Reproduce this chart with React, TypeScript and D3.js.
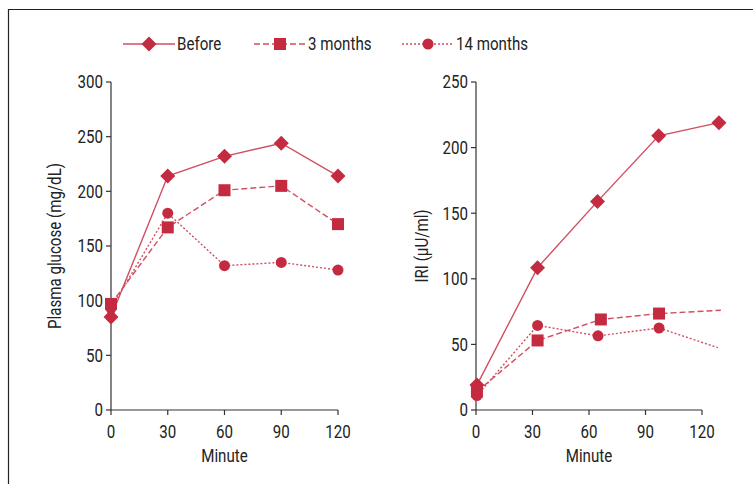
import React from "react";
import * as d3 from "d3";

const minutes = [0, 30, 60, 90, 120];
const glucoseBefore = [85, 214, 232, 244, 214];
const glucose3m = [97, 167, 201, 205, 170];
const glucose14m = [93, 180, 132, 135, 128];

const iriBeforeX = [0.5, 32.7, 64.5, 97, 129];
const iriBefore = [19, 108.5, 159, 209, 219];
const iri3mX = [0.5, 32.7, 66.3, 97.2, 130];
const iri3m = [14, 53, 69, 73.5, 76];
const iri3mMarkers = [true, true, true, true, false];
const iri14mX = [0.5, 32.7, 64.8, 97.2, 128.4];
const iri14m = [11, 64.5, 56.5, 62.5, 47.5];
const iri14mMarkers = [true, true, true, true, false];

const leftTicksY = [0, 50, 100, 150, 200, 250, 300];
const rightTicksY = [0, 50, 100, 150, 200, 250];
const ticksX = [0, 30, 60, 90, 120];

const seriesNames = ["Before", "3 months", "14 months"];

const RED = "#c42b40";
const LINE = "#d04f60";
const AXIS = "#333";
const FONT = "Roboto, sans-serif";
const FS = 18;
const SX = 0.84;
const dashes = ["none", "6 3", "2 2"];
const shapes = ["diamond", "square", "circle"];

function Txt(props: { x: number; y: number; anchor?: string; rotate?: number; children: React.ReactNode; dy?: string }) {
  const { x, y, anchor = "start", rotate = 0, children, dy } = props;
  return (
    <text transform={`translate(${x},${y}) rotate(${rotate}) scale(${SX},1)`} dy={dy} textAnchor={anchor}
      fontSize={FS} fill="#222" fontFamily={FONT}>{children}</text>
  );
}

function Marker({ shape, x, y }: { shape: string; x: number; y: number }) {
  if (shape === "diamond") {
    const r = 7.5;
    return <path d={`M${x},${y - r}L${x + r},${y}L${x},${y + r}L${x - r},${y}Z`} fill={RED} />;
  }
  if (shape === "square") {
    const s = 12;
    return <rect x={x - s / 2} y={y - s / 2} width={s} height={s} fill={RED} />;
  }
  return <circle cx={x} cy={y} r={5.5} fill={RED} />;
}

function Panel(props: {
  x0: number; x1: number; y0: number; y1: number; yMax: number; yTicks: number[];
  series: { xs: number[]; ys: number[]; markers?: boolean[] }[];
  yTitle: string; yTitleX: number;
}) {
  const { x0, x1, y0, y1, yMax, yTicks, series, yTitle, yTitleX } = props;
  const x = d3.scaleLinear().domain([0, 120]).range([x0, x1]);
  const y = d3.scaleLinear().domain([0, yMax]).range([y0, y1]);
  const line = d3.line<[number, number]>().x((d) => x(d[0])).y((d) => y(d[1]));
  return (
    <g>
      {series.map((s, i) => {
        const pts: [number, number][] = s.xs.map((v, j) => [v, s.ys[j]]);
        return (
          <path key={"l" + i} d={line(pts) || ""} fill="none" stroke={LINE} strokeWidth={1.4}
            strokeDasharray={dashes[i]} />
        );
      })}
      <line x1={x0} x2={x0} y1={y(yMax)} y2={y0} stroke={AXIS} strokeWidth={1.2} />
      <line x1={x0} x2={x1} y1={y0} y2={y0} stroke={AXIS} strokeWidth={1.2} />
      {yTicks.map((t) => (
        <g key={"yt" + t}>
          <line x1={x0 - 5} x2={x0} y1={y(t)} y2={y(t)} stroke={AXIS} strokeWidth={1.2} />
          <Txt x={x0 - 8} y={y(t)} dy="0.36em" anchor="end">{t}</Txt>
        </g>
      ))}
      {ticksX.map((t) => (
        <g key={"xt" + t}>
          <line x1={x(t)} x2={x(t)} y1={y0} y2={y0 + 5} stroke={AXIS} strokeWidth={1.2} />
          <Txt x={x(t)} y={y0 + 28} anchor="middle">{t}</Txt>
        </g>
      ))}
      {series.map((s, i) =>
        s.xs.map((v, j) =>
          s.markers && !s.markers[j] ? null : (
            <Marker key={"m" + i + "-" + j} shape={shapes[i]} x={x(v)} y={y(s.ys[j])} />
          )
        )
      )}
      <Txt x={(x0 + x1) / 2} y={462} anchor="middle">Minute</Txt>
      <Txt x={yTitleX} y={(y0 + y(yMax)) / 2} anchor="middle" rotate={-90}>{yTitle}</Txt>
    </g>
  );
}

export default function App() {
  const legendX = [123, 254, 402];
  return (
    <svg width={753} height={484} style={{ position: "absolute", left: 0, top: 0 }}>
      <rect x={0} y={0} width={753} height={484} fill="#fff" />
      <path d="M8.5,484V9.5H753" fill="none" stroke="#222" strokeWidth={1.2} />
      {seriesNames.map((n, i) => (
        <g key={n}>
          <line x1={legendX[i]} x2={legendX[i] + 52} y1={44} y2={44} stroke={LINE} strokeWidth={1.4} strokeDasharray={dashes[i]} />
          <Marker shape={shapes[i]} x={legendX[i] + 26} y={44} />
          <Txt x={legendX[i] + 54} y={44} dy="0.36em">{n}</Txt>
        </g>
      ))}
      <Panel x0={111} x1={338} y0={410} y1={82} yMax={300} yTicks={leftTicksY}
        series={[
          { xs: minutes, ys: glucoseBefore },
          { xs: minutes, ys: glucose3m },
          { xs: minutes, ys: glucose14m },
        ]}
        yTitle="Plasma glucose (mg/dL)" yTitleX={61} />
      <Panel x0={476} x1={702} y0={410} y1={82} yMax={250} yTicks={rightTicksY}
        series={[
          { xs: iriBeforeX, ys: iriBefore },
          { xs: iri3mX, ys: iri3m, markers: iri3mMarkers },
          { xs: iri14mX, ys: iri14m, markers: iri14mMarkers },
        ]}
        yTitle="IRI (µU/ml)" yTitleX={428} />
    </svg>
  );
}
